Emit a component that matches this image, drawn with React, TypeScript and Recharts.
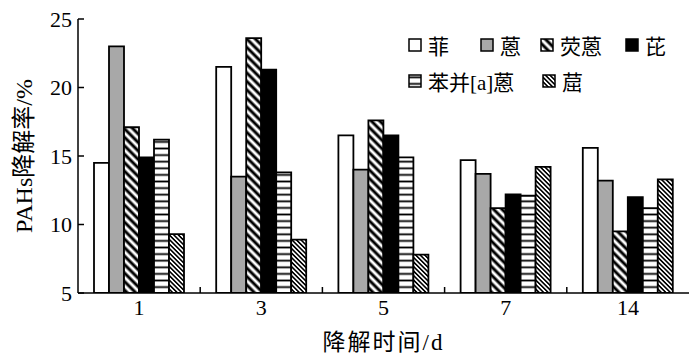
import { BarChart, Bar, XAxis, YAxis } from "recharts";

const days = ["1", "3", "5", "7", "14"];
const phenanthrene = [14.5, 21.5, 16.5, 14.7, 15.6];
const anthracene = [23.0, 13.5, 14.0, 13.7, 13.2];
const fluoranthene = [17.1, 23.6, 17.6, 11.2, 9.5];
const pyrene = [14.9, 21.3, 16.5, 12.2, 12.0];
const benzAnthracene = [16.2, 13.8, 14.9, 12.1, 11.2];
const chrysene = [9.3, 8.9, 7.8, 14.2, 13.3];
const yTicks = [5, 10, 15, 20, 25];

const series = [
  { key: "phe", name: "菲", values: phenanthrene, fill: "#ffffff" },
  { key: "ant", name: "蒽", values: anthracene, fill: "#a8a8a8" },
  { key: "flu", name: "荧蒽", values: fluoranthene, fill: "url(#patFlu)" },
  { key: "pyr", name: "芘", values: pyrene, fill: "#000000" },
  { key: "baa", name: "苯并[a]蒽", values: benzAnthracene, fill: "url(#patBaa)" },
  { key: "chr", name: "䓛", values: chrysene, fill: "url(#patChr)" },
];

const data = days.map((day, i) => {
  const row: Record<string, string | number> = { day };
  series.forEach((s) => {
    row[s.key] = s.values[i];
  });
  return row;
});

const serif = "'Liberation Serif', 'Noto Sans CJK SC', serif";
const TICK_LEN = 6;
const TICK_MARGIN = 6;

// legend slots: [row, left offset]
const legendSlots: [number, number][] = [
  [0, 0],
  [0, 72],
  [0, 132],
  [0, 217],
  [1, 0],
  [1, 134],
];

function Patterns() {
  return (
    <defs>
      <pattern id="patFlu" width="6" height="6" patternUnits="userSpaceOnUse" patternTransform="rotate(45)">
        <rect width="6" height="6" fill="#fff" />
        <line x1="0" y1="3" x2="6" y2="3" stroke="#000" strokeWidth="3" />
      </pattern>
      <pattern id="patBaa" width="6" height="6.6" patternUnits="userSpaceOnUse">
        <rect width="6" height="6.6" fill="#fff" />
        <line x1="0" y1="3.3" x2="6" y2="3.3" stroke="#000" strokeWidth="1.8" />
      </pattern>
      <pattern id="patChr" width="3.2" height="3.2" patternUnits="userSpaceOnUse" patternTransform="rotate(45)">
        <rect width="3.2" height="3.2" fill="#fff" />
        <line x1="0" y1="1.6" x2="3.2" y2="1.6" stroke="#000" strokeWidth="1.6" />
      </pattern>
    </defs>
  );
}

// y tick: label left of the axis, short tick line pointing into the plot
function YTick(props: any) {
  const { x, y, payload } = props;
  const axisX = x + TICK_MARGIN;
  return (
    <g>
      <line x1={axisX} x2={axisX + TICK_LEN} y1={y} y2={y} stroke="#000" strokeWidth={1.5} />
      <text x={x} y={y} dy="0.35em" textAnchor="end" fontSize={22} fontFamily={serif} fill="#000">
        {payload.value}
      </text>
    </g>
  );
}

// x tick: day label under the group, plus a tick at the right edge of the group
function XTick(props: any) {
  const { x, y, payload, index, width, visibleTicksCount } = props;
  const axisY = y - TICK_MARGIN;
  const half = width / visibleTicksCount / 2;
  return (
    <g>
      {index < visibleTicksCount - 1 && (
        <line x1={x + half} x2={x + half} y1={axisY} y2={axisY - TICK_LEN} stroke="#000" strokeWidth={1.5} />
      )}
      <text x={x} y={y} dy="0.71em" textAnchor="middle" fontSize={22} fontFamily={serif} fill="#000">
        {payload.value}
      </text>
    </g>
  );
}

export default function App() {
  return (
    <div style={{ position: "absolute", left: 0, top: 0, width: 700, height: 359, background: "#fff" }}>
      <BarChart
        width={700}
        height={359}
        data={data}
        margin={{ top: 19, right: 11, left: 0, bottom: 0 }}
        barSize={15}
        barGap={0}
      >
        <Patterns />
        <XAxis
          dataKey="day"
          height={66}
          axisLine={{ stroke: "#000", strokeWidth: 1.5 }}
          tickLine={false}
          tickSize={0}
          tickMargin={TICK_MARGIN}
          tick={<XTick />}
          label={{
            value: "降解时间/d",
            position: "insideBottom",
            offset: 9,
            style: { fill: "#000", fontSize: 23, fontFamily: serif, letterSpacing: 2 },
          }}
        />
        <XAxis
          xAxisId="top"
          dataKey="day"
          orientation="top"
          height={0}
          tick={false}
          tickLine={false}
          axisLine={{ stroke: "#000", strokeWidth: 1.5 }}
        />
        <YAxis
          domain={[5, 25]}
          ticks={yTicks}
          width={78}
          axisLine={{ stroke: "#000", strokeWidth: 1.5 }}
          tickLine={false}
          tickSize={0}
          tickMargin={TICK_MARGIN}
          tick={<YTick />}
          allowDataOverflow
          label={({ viewBox }: any) => (
            <text
              x={24}
              y={viewBox.y + viewBox.height / 2}
              transform={`rotate(-90, 24, ${viewBox.y + viewBox.height / 2})`}
              textAnchor="middle"
              dominantBaseline="central"
              fontSize={24}
              fontFamily={serif}
              fill="#000"
            >
              PAHs降解率/%
            </text>
          )}
        />
        <YAxis
          yAxisId="right"
          orientation="right"
          domain={[5, 25]}
          width={0}
          tick={false}
          tickLine={false}
          axisLine={{ stroke: "#000", strokeWidth: 1.5 }}
        />
        {series.map((s) => (
          <Bar
            key={s.key}
            dataKey={s.key}
            name={s.name}
            fill={s.fill}
            stroke="#000"
            strokeWidth={1.8}
            isAnimationActive={false}
          />
        ))}
      </BarChart>
      <div style={{ position: "absolute", left: 408, top: 33, width: 280, height: 60, fontFamily: serif, fontSize: 21 }}>
        {series.map((s, i) => {
          const [row, left] = legendSlots[i];
          return (
            <div
              key={s.key}
              style={{
                position: "absolute",
                left,
                top: row * 36,
                height: 24,
                display: "flex",
                alignItems: "center",
                whiteSpace: "nowrap",
              }}
            >
              <svg width={14} height={14} style={{ marginRight: 6 }}>
                <rect x={1} y={1} width={12} height={12} fill={s.fill} stroke="#000" strokeWidth={1.5} />
              </svg>
              <span>{s.name}</span>
            </div>
          );
        })}
      </div>
    </div>
  );
}
